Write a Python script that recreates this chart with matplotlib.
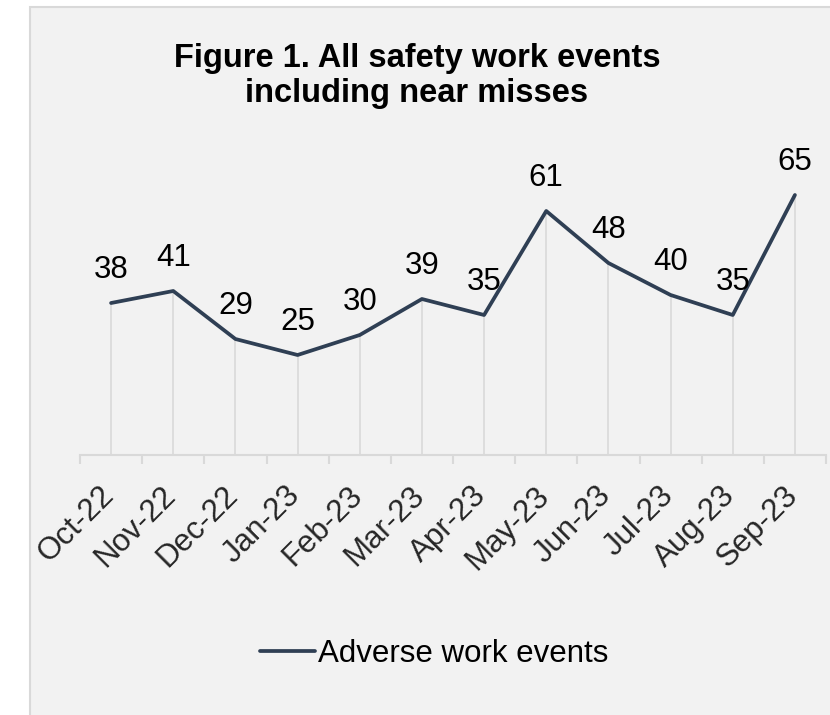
import numpy as np
import matplotlib.pyplot as plt
from matplotlib.patches import Rectangle
from matplotlib.transforms import ScaledTranslation

months = ["Oct-22", "Nov-22", "Dec-22", "Jan-23", "Feb-23", "Mar-23",
          "Apr-23", "May-23", "Jun-23", "Jul-23", "Aug-23", "Sep-23"]
adverse_events = [38, 41, 29, 25, 30, 39, 35, 61, 48, 40, 35, 65]

line_col = "#2f3f54"
grid_col = "#d9d9d9"
plt.rcParams["font.family"] = ["Liberation Sans", "DejaVu Sans"]

fig = plt.figure(figsize=(8.3, 7.15), dpi=100)
fig.patch.set_facecolor("white")

# chart area box (runs off the right and bottom edges)
box = Rectangle((30 / 830, -0.05), 1.2, 1 - 7 / 715 + 0.05,
                transform=fig.transFigure, facecolor="#f2f2f2",
                edgecolor=grid_col, linewidth=1.5, zorder=-5)
fig.patches.append(box)

ax = fig.add_axes([80 / 830, (715 - 455) / 715, 746 / 830, 280 / 715])
ax.set_facecolor("none")
x = np.arange(len(months))

ax.vlines(x, 0, adverse_events, color=grid_col, linewidth=1.2, zorder=1)
ax.plot(x, adverse_events, color=line_col, linewidth=2.7,
        solid_joinstyle="round", solid_capstyle="round", zorder=3,
        label="Adverse work events")

for xi, v in zip(x, adverse_events):
    ax.annotate(str(v), (xi, v), xytext=(0, 18), textcoords="offset points",
                ha="center", va="baseline", fontsize=22.5, color="black",
                annotation_clip=False)

ax.set_xlim(-0.5, len(months) - 0.5)
ax.set_ylim(0, 70)
for s in ["top", "right", "left"]:
    ax.spines[s].set_visible(False)
ax.spines["bottom"].set_color(grid_col)
ax.spines["bottom"].set_linewidth(1.5)
ax.set_yticks([])

ax.set_xticks(x)
ax.set_xticklabels(months, rotation=45, ha="right", va="center",
                   rotation_mode="anchor", fontsize=22.5, color="#262626")
ax.set_xticks(np.arange(len(months) + 1) - 0.5, minor=True)
ax.tick_params(axis="x", which="major", length=0, pad=26)
ax.tick_params(axis="x", which="minor", length=6.5, width=1.5, color=grid_col)
shift = ScaledTranslation(-2 / 100, 0, fig.dpi_scale_trans)
for lab in ax.get_xticklabels():
    lab.set_transform(lab.get_transform() + shift)

fig.text(417 / 830, 1 - 67 / 715, "Figure 1. All safety work events",
         ha="center", va="baseline", fontsize=23.5, fontweight="bold")
fig.text(417 / 830, 1 - 102 / 715, "including near misses",
         ha="center", va="baseline", fontsize=23.5, fontweight="bold")

ax.legend(loc="center", bbox_to_anchor=(434 / 830, 1 - 654 / 715),
          bbox_transform=fig.transFigure, frameon=False, fontsize=22.5,
          handlelength=1.75, handletextpad=0.1)

fig.savefig("out.png", dpi=100, facecolor=fig.get_facecolor())
